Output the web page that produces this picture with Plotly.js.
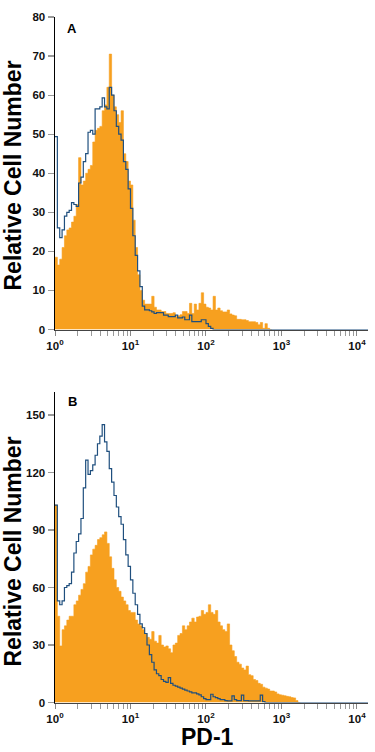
<!DOCTYPE html>
<html>
<head>
<meta charset="utf-8">
<script src="https://cdn.plot.ly/plotly-3.0.1.min.js"></script>
<style>
  html, body { margin: 0; padding: 0; background: #fff; }
  #chart { width: 375px; height: 752px; }
</style>
</head>
<body>
<div id="chart"></div>
<script>
// Histogram channels: 32 channels per decade, channel k starts at 10^(k/32)
const CHANNELS_PER_DECADE = 32;

// Panel A (counts per channel)
const panelA_pd1 = [
  18.5, 16.5, 18, 21, 24, 25.5, 26, 27.5, 29, 32,
  44, 37, 38, 40, 41, 42, 48, 51, 51.5, 52,
  56, 57.5, 62, 70.5, 60, 57, 55, 53, 56, 45,
  43, 38, 37, 28, 21, 14, 10, 7.5, 6.5, 6.5,
  6.5, 8.5, 5.7, 5, 5, 4.6, 4.6, 4.1, 4.1, 4.1,
  4.3, 3.3, 3.5, 3.8, 4.6, 4.6, 4.1, 6.7, 4.1, 6.5,
  5, 6.7, 9.4, 6.5, 5.7, 5.5, 5, 8.5, 5, 5.5,
  4.8, 4.5, 4.5, 5, 4, 3.7, 3.5, 2.6, 2.6, 2.5,
  2.5, 2.3, 2, 2, 2, 1.8, 1.2, 1.8, 0.3, 1.5,
  0.3, 0
];
const panelA_isotype = [
  49.4, 26, 23.5, 25.5, 29, 30, 30.5, 32.5, 32, 31.5,
  37.5, 39, 43, 45, 50.5, 51, 50, 56.5, 56.5, 57,
  59.3, 57, 56.5, 62, 60, 56, 52, 50, 48.5, 43,
  41, 36, 31, 24, 19, 15, 11, 6, 5, 5,
  4.8, 4.5, 4.1, 4.3, 4.3, 4.3, 3.7, 3.7, 3.3, 3.3,
  3.3, 3.7, 3, 3, 3.2, 2.5, 2.5, 3.7, 2, 2,
  2, 2, 2.5, 2.5, 1.5, 0.8, 0.3, 0
];

// Panel B (counts per channel)
const panelB_pd1 = [
  103, 45, 29.5, 38, 40, 43, 45, 45, 51, 53,
  56, 59, 62, 68, 71, 77, 80, 82, 85, 86,
  87.5, 89, 83, 76, 70, 64, 60, 58, 55, 53,
  51, 48, 47, 47, 43, 41, 40, 38, 36, 34,
  33, 37, 32, 31, 35, 30, 29, 29.5, 28, 26,
  30, 31, 35, 36, 40, 38, 40, 42, 44, 42,
  44.6, 45, 48, 46, 47, 51, 47, 46, 48, 42,
  40, 38, 37, 41, 30, 27, 24, 21, 20, 18,
  17, 19, 14.5, 14, 12, 11.5, 10, 9.5, 8, 7.5,
  7, 6, 6, 5.5, 4.5, 4, 3.8, 3.5, 3.2, 3,
  2.6, 2.4, 1, 0
];
const panelB_isotype = [
  103, 53, 51, 53, 60, 61, 62, 68, 78, 84,
  88, 96, 112, 126.5, 119, 121, 124, 129, 135, 139,
  145, 136, 131, 122, 115, 108, 102, 97, 93, 85,
  77, 71, 64, 57, 51, 46, 41, 39, 36, 30,
  25, 21, 17, 15, 14, 12, 11, 10.5, 13, 10,
  9, 8.5, 8, 7.5, 7, 6.5, 6, 5.5, 5, 5,
  4.5, 4, 3, 2, 1.5, 1.5, 4.3, 3, 2.5, 2,
  1.5, 1.5, 1, 0.8, 0.8, 3.5, 1.5, 1, 1, 3.8,
  1, 1, 0.8, 0.8, 0.8, 0.8, 0.8, 3.8, 0.5, 0
];

// Axis ticks and labels
const xTickVals = [1, 10, 100, 1000, 10000];
const xTickText = ['10<sup>0</sup>', '10<sup>1</sup>', '10<sup>2</sup>', '10<sup>3</sup>', '10<sup>4</sup>'];
const yTicksA = [0, 10, 20, 30, 40, 50, 60, 70, 80];
const yTicksB = [0, 30, 60, 90, 120, 150];
const panelLetters = ['A', 'B'];
const yTitle = 'Relative Cell Number';
const xTitle = 'PD-1';

const TOTAL_CHANNELS = 133;
const minorMult = [2, 3, 4, 5, 6, 7, 8, 9];
const minorTicks = [];
[1, 10, 100, 1000, 10000].forEach(d => minorMult.forEach(m => minorTicks.push(d * m)));

function stepXY(values, padToEnd) {
  const vals = values.slice();
  if (padToEnd) { while (vals.length < TOTAL_CHANNELS) vals.push(0); }
  const x = [], y = [];
  for (let k = 0; k < vals.length; k++) {
    x.push(Math.pow(10, k / CHANNELS_PER_DECADE));
    y.push(vals[k]);
  }
  x.push(Math.pow(10, vals.length / CHANNELS_PER_DECADE));
  y.push(vals[vals.length - 1]);
  return {x, y};
}

const ORANGE = '#F7A01F';
const BLUE = '#1f4f7e';

function makeTraces(pd1, iso, xa, ya) {
  const a = stepXY(pd1, false);
  const b = stepXY(iso, true);
  return [
    {x: a.x, y: a.y, xaxis: xa, yaxis: ya, type: 'scatter', mode: 'lines',
     line: {shape: 'hv', color: ORANGE, width: 0.6}, fill: 'tozeroy', fillcolor: ORANGE,
     name: 'PD-1', showlegend: false, hoverinfo: 'skip'},
    {x: b.x, y: b.y, xaxis: xa, yaxis: ya, type: 'scatter', mode: 'lines',
     line: {shape: 'hv', color: BLUE, width: 1.2},
     name: 'Isotype control', showlegend: false, hoverinfo: 'skip'}
  ];
}

const data = [
  ...makeTraces(panelA_pd1, panelA_isotype, 'x', 'y'),
  ...makeTraces(panelB_pd1, panelB_isotype, 'x2', 'y2')
];

const tickFont = {family: 'Liberation Sans, Arial, sans-serif', size: 11.5, color: '#111', weight: 'bold'};
const xDomain = [55 / 375, 368 / 375];

function xAxis(anchor) {
  return {
    type: 'log', range: [0, 4.146], domain: xDomain, anchor: anchor,
    tickmode: 'array', tickvals: xTickVals, ticktext: xTickText,
    ticks: 'outside', ticklen: 5, tickcolor: '#888', tickwidth: 1,
    minor: {tickmode: 'array', tickvals: minorTicks, ticks: 'outside', ticklen: 5, tickcolor: '#999', tickwidth: 1, showgrid: false},
    showline: true, linecolor: '#444', linewidth: 1.5,
    showgrid: false, zeroline: false, tickfont: tickFont, fixedrange: true
  };
}
function yAxis(anchor, range, ticks, domain) {
  return {
    range: range, domain: domain, anchor: anchor,
    tickmode: 'array', tickvals: ticks,
    ticks: 'outside', ticklen: 6, tickcolor: '#999', tickwidth: 1.2,
    showline: true, linecolor: '#000', linewidth: 1.5,
    showgrid: false, zeroline: false, tickfont: tickFont, fixedrange: true
  };
}

const H = 752;
const layout = {
  width: 375, height: 752,
  margin: {l: 0, r: 0, t: 0, b: 0},
  paper_bgcolor: '#fff', plot_bgcolor: '#fff',
  showlegend: false,
  xaxis: xAxis('y'),
  yaxis: yAxis('x', [0, 80], yTicksA, [1 - 329.5 / H, 1 - 17 / H]),
  xaxis2: xAxis('y2'),
  yaxis2: yAxis('x2', [0, 162], yTicksB, [1 - 702.5 / H, 1 - 392 / H]),
  annotations: [
    {text: panelLetters[0], xref: 'paper', yref: 'paper', x: 72 / 375, y: 1 - 28 / H,
     xanchor: 'center', yanchor: 'middle', showarrow: false,
     font: {family: 'Liberation Sans, Arial, sans-serif', size: 13, color: '#000', weight: 'bold'}},
    {text: panelLetters[1], xref: 'paper', yref: 'paper', x: 72 / 375, y: 1 - 402 / H,
     xanchor: 'center', yanchor: 'middle', showarrow: false,
     font: {family: 'Liberation Sans, Arial, sans-serif', size: 13, color: '#000', weight: 'bold'}},
    {text: yTitle, xref: 'paper', yref: 'paper', x: 12.5 / 375, y: 1 - 176 / H,
     xanchor: 'center', yanchor: 'middle', textangle: -90, showarrow: false,
     font: {family: 'Liberation Sans, Arial, sans-serif', size: 23, color: '#000', weight: 'bold'}},
    {text: yTitle, xref: 'paper', yref: 'paper', x: 12.5 / 375, y: 1 - 552 / H,
     xanchor: 'center', yanchor: 'middle', textangle: -90, showarrow: false,
     font: {family: 'Liberation Sans, Arial, sans-serif', size: 23, color: '#000', weight: 'bold'}},
    {text: xTitle, xref: 'paper', yref: 'paper', x: 207 / 375, y: 1 - 737 / H,
     xanchor: 'center', yanchor: 'middle', showarrow: false,
     font: {family: 'Liberation Sans, Arial, sans-serif', size: 23, color: '#000', weight: 'bold'}}
  ]
};

Plotly.newPlot('chart', data, layout, {staticPlot: true, displayModeBar: false});
</script>
</body>
</html>
